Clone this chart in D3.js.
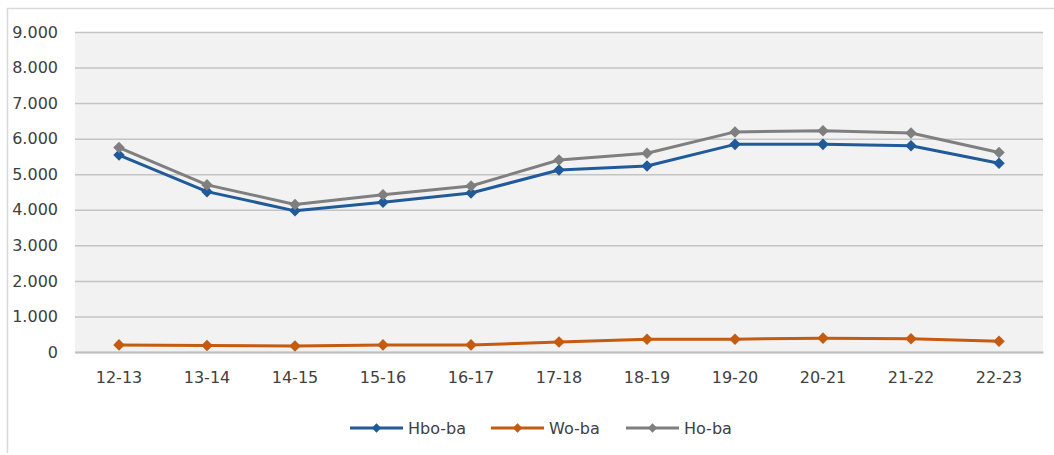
<!DOCTYPE html>
<html>
<head>
<meta charset="utf-8">
<script src="https://cdn.jsdelivr.net/npm/d3@7"></script>
<style>
  body { margin: 0; background: #fff; }
  text { font-family: "DejaVu Sans", sans-serif; fill: #404040; }
</style>
</head>
<body>
<div id="chart"></div>
<script>
// categories (school years) and series values
var years = ["12-13", "13-14", "14-15", "15-16", "16-17", "17-18", "18-19", "19-20", "20-21", "21-22", "22-23"];
var hboBa = [5540, 4510, 3970, 4210, 4470, 5120, 5230, 5840, 5840, 5800, 5310];
var woBa  = [200, 180, 170, 200, 200, 280, 360, 360, 390, 370, 300];
var hoBa  = [5750, 4700, 4150, 4420, 4670, 5400, 5590, 6190, 6220, 6160, 5610];
var yTicks = [0, 1000, 2000, 3000, 4000, 5000, 6000, 7000, 8000, 9000];

var series = [
  {name: "Hbo-ba", values: hboBa, color: "#215a98"},
  {name: "Wo-ba",  values: woBa,  color: "#c55a11"},
  {name: "Ho-ba",  values: hoBa,  color: "#7f7f7f"}
];

var W = 1054, H = 455;
var margin = {top: 32, right: 11, bottom: 103, left: 75},
  width = W - margin.left - margin.right,
  height = H - margin.top - margin.bottom;

var svg = d3.select("#chart").append("svg")
  .attr("width", W)
  .attr("height", H);

// outer frame (top and left edges visible)
svg.append("path")
  .attr("d", "M7.5,453 L7.5,8.5 L1054,8.5")
  .attr("fill", "none")
  .attr("stroke", "#d9d9d9")
  .attr("stroke-width", 1.5);

var g = svg.append("g")
  .attr("transform", "translate(" + margin.left + "," + margin.top + ")");

var x = d3.scaleBand()
  .domain(years)
  .range([0, width]);

var y = d3.scaleLinear()
  .domain([0, 9000])
  .range([height, 0]);

// plot background
g.append("rect")
  .attr("x", 0).attr("y", 0)
  .attr("width", width).attr("height", height)
  .attr("fill", "#f2f2f2");

// gridlines + y labels
var fmt = function(d) { return d === 0 ? "0" : d3.format(",")(d).replace(",", "."); };
var yAxis = g.append("g")
  .call(d3.axisLeft(y).tickValues(yTicks).tickSize(-width).tickPadding(17).tickFormat(fmt));
yAxis.select(".domain").remove();
yAxis.selectAll(".tick line")
  .attr("stroke", "#c4c4c4")
  .attr("stroke-width", 1.5);
yAxis.selectAll(".tick text")
  .style("font-size", "16px")
  .attr("fill", "#404040");

// x axis
var xAxis = g.append("g")
  .attr("transform", "translate(0," + height + ")")
  .call(d3.axisBottom(x).tickSize(0).tickPadding(20));
xAxis.select(".domain")
  .attr("stroke", "#bfbfbf")
  .attr("stroke-width", 2);
xAxis.selectAll(".tick text")
  .style("font-size", "16px")
  .attr("fill", "#404040");

var line = d3.line()
  .x(function(d, i) { return x(years[i]) + x.bandwidth() / 2; })
  .y(function(d) { return y(d); });

var diamond = d3.symbol().type(d3.symbolDiamond2).size(85);

series.forEach(function(s) {
  g.append("path")
    .datum(s.values)
    .attr("fill", "none")
    .attr("stroke", s.color)
    .attr("stroke-width", 3)
    .attr("stroke-linejoin", "round")
    .attr("d", line);

  g.selectAll(null)
    .data(s.values)
    .enter()
    .append("path")
      .attr("d", diamond)
      .attr("transform", function(d, i) {
        return "translate(" + (x(years[i]) + x.bandwidth() / 2) + "," + y(d) + ")";
      })
      .attr("fill", s.color);
});

// legend
var legendX = [350, 491, 626];
var legend = svg.append("g").attr("transform", "translate(0,428)");
series.forEach(function(s, i) {
  var lg = legend.append("g").attr("transform", "translate(" + legendX[i] + ",0)");
  lg.append("line")
    .attr("x1", 0).attr("x2", 53)
    .attr("stroke", s.color)
    .attr("stroke-width", 3);
  lg.append("path")
    .attr("d", d3.symbol().type(d3.symbolDiamond2).size(55))
    .attr("transform", "translate(26.5,0)")
    .attr("fill", s.color);
  lg.append("text")
    .attr("x", 58)
    .attr("dy", "0.35em")
    .style("font-size", "16px")
    .text(s.name);
});
</script>
</body>
</html>
